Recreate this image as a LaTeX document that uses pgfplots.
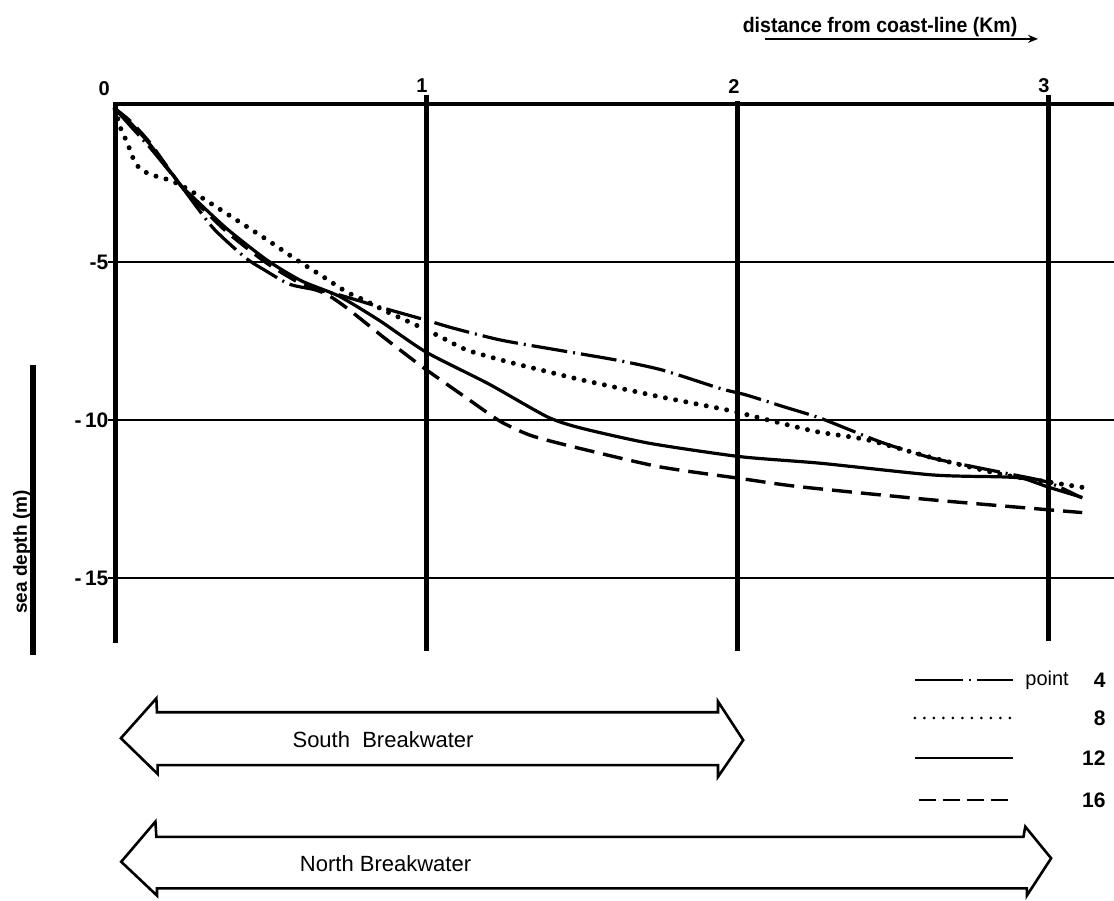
\documentclass[border=0pt]{standalone}
\usepackage{fontspec}
\setmainfont{Liberation Sans}
\newfontfamily\condfont[FakeStretch=0.93]{Liberation Sans}
\usepackage{pgfplots}
\pgfplotsset{compat=1.18}
\usetikzlibrary{arrows.meta}

\tikzset{
 p4/.style={line width=1.6pt, dash pattern=on 18pt off 3pt on 1pt off 3pt},
 p8/.style={line width=2.5pt, line cap=round, dash pattern=on 0pt off 5.2pt},
 p12/.style={line width=1.6pt},
 p16/.style={line width=1.7pt, dash pattern=on 10pt off 4.5pt},
}

\begin{document}
\begin{tikzpicture}
\begin{axis}[name=ax, scale only axis, width=557pt, height=450pt,
 xmin=-0.36977, xmax=3.21222, ymin=-25.1899, ymax=3.29114,
 hide axis, clip=false]

% --- frame lines ---
\draw[line width=2.1pt] (axis cs:-0.006,0) -- (axis cs:3.212,0);
\draw[line width=0.9pt] (axis cs:-0.022,-5) -- (axis cs:3.212,-5);
\draw[line width=0.9pt] (axis cs:-0.022,-10) -- (axis cs:3.212,-10);
\draw[line width=0.9pt] (axis cs:-0.022,-15) -- (axis cs:3.212,-15);
\draw[line width=2.5pt] (axis cs:0,0.05) -- (axis cs:0,-17.05);
\draw[line width=2.5pt] (axis cs:1,0.3) -- (axis cs:1,-17.3);
\draw[line width=2.5pt] (axis cs:2,0.1) -- (axis cs:2,-17.3);
\draw[line width=2.5pt] (axis cs:3,0.3) -- (axis cs:3,-17.0);

% --- tick labels ---
\node[font=\fontsize{10}{11}\selectfont\bfseries] at (axis cs:-0.035,0.5) {0};
\node[font=\fontsize{10}{11}\selectfont\bfseries] at (axis cs:0.987,0.57) {1};
\node[font=\fontsize{10}{11}\selectfont\bfseries] at (axis cs:1.99,0.55) {2};
\node[font=\fontsize{10}{11}\selectfont\bfseries] at (axis cs:2.987,0.57) {3};
\node[font=\fontsize{10.5}{11}\selectfont\bfseries, anchor=east, inner sep=0pt] at (axis cs:-0.02,-5) {-5};
\node[font=\fontsize{10.5}{11}\selectfont\bfseries, anchor=east, inner sep=0pt] at (axis cs:-0.02,-10) {-\,10};
\node[font=\fontsize{10.5}{11}\selectfont\bfseries, anchor=east, inner sep=0pt] at (axis cs:-0.02,-15) {-\,15};

% --- axis titles ---
\node[font=\condfont\fontsize{10.5}{12}\selectfont\bfseries] at (axis cs:2.46,2.44) {distance from coast-line (Km)};
\draw[line width=0.9pt, -{Stealth[length=5pt,width=4pt]}] (axis cs:2.09,2.06) -- (axis cs:2.968,2.06);
\node[rotate=90, font=\fontsize{9.5}{10}\selectfont\bfseries] at (axis cs:-0.299,-14.18) {sea depth (m)};
\draw[line width=2.8pt] (axis cs:-0.264,-8.26) -- (axis cs:-0.264,-17.44);

% --- data curves ---
\addplot[p4, smooth, tension=0.4, forget plot] coordinates {
(0,-0.15) (0.05,-0.7) (0.11,-1.35) (0.16,-1.95) (0.21,-2.56) (0.315,-3.92)
(0.42,-4.87) (0.48,-5.25) (0.56,-5.7) (0.64,-5.87) (0.72,-6.04) (0.86,-6.45)
(1.0,-6.84) (1.09,-7.1) (1.24,-7.47) (1.42,-7.78) (1.61,-8.1) (1.76,-8.42)
(1.945,-9.0) (2.03,-9.21) (2.15,-9.58) (2.27,-9.95) (2.46,-10.69) (2.63,-11.21)
(2.867,-11.69) (3.0,-11.97) (3.11,-12.47)};

\addplot[p8, smooth, tension=0.4, forget plot] coordinates {
(0,-0.15) (0.02,-0.82) (0.04,-1.23) (0.055,-1.65) (0.08,-2.05) (0.12,-2.25)
(0.16,-2.36) (0.21,-2.56) (0.28,-2.97) (0.40,-3.73) (0.50,-4.37) (0.585,-4.94)
(0.67,-5.47) (0.745,-5.95) (0.80,-6.2) (0.88,-6.6) (0.98,-7.05) (1.045,-7.36)
(1.13,-7.78) (1.26,-8.15) (1.37,-8.42) (1.5,-8.73) (1.75,-9.26) (1.967,-9.68)
(2.1,-10.0) (2.256,-10.37) (2.42,-10.63) (2.63,-11.2) (2.85,-11.72) (3.0,-11.96)
(3.11,-12.13)};

\addplot[p12, smooth, tension=0.4, forget plot] coordinates {
(0,-0.15) (0.05,-0.6) (0.11,-1.25) (0.16,-1.9) (0.21,-2.56) (0.24,-2.85)
(0.36,-3.95) (0.49,-4.95) (0.60,-5.6) (0.72,-6.08) (0.85,-6.85) (1.0,-7.85)
(1.2,-8.85) (1.39,-9.9) (1.5,-10.26) (1.72,-10.74) (2.01,-11.16) (2.27,-11.37)
(2.63,-11.74) (2.85,-11.8) (2.92,-11.85) (3.0,-12.12) (3.11,-12.45)};

\addplot[p16, smooth, tension=0.4, forget plot] coordinates {
(0,-0.15) (0.05,-0.55) (0.11,-1.2) (0.16,-1.88) (0.21,-2.56) (0.24,-2.9)
(0.36,-4.05) (0.49,-5.05) (0.60,-5.7) (0.68,-6.02) (0.746,-6.46) (0.862,-7.37)
(0.98,-8.26) (1.06,-8.82) (1.14,-9.37) (1.24,-10.05) (1.34,-10.5) (1.495,-10.9)
(1.75,-11.48) (2.01,-11.85) (2.2,-12.11) (2.63,-12.53) (3.11,-12.93)};

% --- legend (samples) ---
\addplot[line width=1pt, dash pattern=on 24pt off 3pt on 1.2pt off 3pt, forget plot]
  coordinates {(2.572,-18.23) (2.888,-18.23)};
\addplot[line width=1.5pt, line cap=round, dash pattern=on 0pt off 4.75pt, forget plot]
  coordinates {(2.572,-19.43) (2.888,-19.43)};
\addplot[line width=1.1pt, forget plot]
  coordinates {(2.572,-20.70) (2.888,-20.70)};
\addplot[line width=1.1pt, dash pattern=on 8.5pt off 3.5pt, forget plot]
  coordinates {(2.585,-22.03) (2.888,-22.03)};
\node[anchor=west, inner sep=0pt, font=\fontsize{10}{11}\selectfont] at (axis cs:2.926,-18.23) {point};
\node[anchor=east, inner sep=0pt, font=\fontsize{10.5}{11}\selectfont\bfseries] at (axis cs:3.186,-18.23) {4};
\node[anchor=east, inner sep=0pt, font=\fontsize{10.5}{11}\selectfont\bfseries] at (axis cs:3.186,-19.43) {8};
\node[anchor=east, inner sep=0pt, font=\fontsize{10.5}{11}\selectfont\bfseries] at (axis cs:3.186,-20.70) {12};
\node[anchor=east, inner sep=0pt, font=\fontsize{10.5}{11}\selectfont\bfseries] at (axis cs:3.186,-22.03) {16};

% --- breakwater arrows ---
\draw[line width=1.3pt, line join=miter]
  (axis cs:0.019,-20.07) -- (axis cs:0.133,-18.81) -- (axis cs:0.135,-19.25)
  -- (axis cs:1.939,-19.25) -- (axis cs:1.939,-18.91) -- (axis cs:2.02,-20.13)
  -- (axis cs:1.939,-21.29) -- (axis cs:1.939,-20.92) -- (axis cs:0.137,-20.92)
  -- (axis cs:0.137,-21.2) -- cycle;
\node[font=\fontsize{11}{12}\selectfont] at (axis cs:0.862,-20.1) {South\ \ Breakwater};

\draw[line width=1.3pt, line join=miter]
  (axis cs:0.02,-23.98) -- (axis cs:0.13,-22.71) -- (axis cs:0.133,-23.19)
  -- (axis cs:2.921,-23.19) -- (axis cs:2.927,-22.87) -- (axis cs:3.01,-23.87)
  -- (axis cs:2.932,-25.05) -- (axis cs:2.932,-24.82) -- (axis cs:0.135,-24.82)
  -- (axis cs:0.135,-25.05) -- cycle;
\node[font=\fontsize{11}{12}\selectfont] at (axis cs:0.87,-24.05) {North Breakwater};

\end{axis}
\pgfresetboundingbox
\path (ax.south west) rectangle (ax.north east);
\end{tikzpicture}
\end{document}
